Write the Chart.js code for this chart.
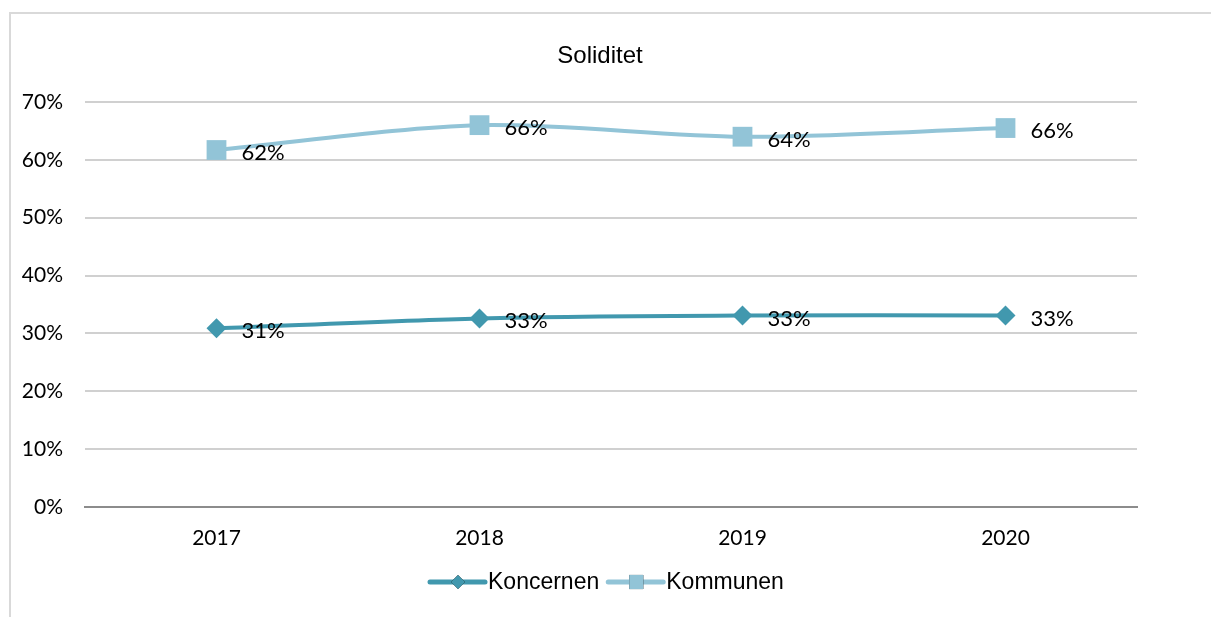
<!DOCTYPE html>
<html>
<head>
<meta charset="utf-8">
<script src="https://cdn.jsdelivr.net/npm/chart.js@4/dist/chart.umd.min.js"></script>
<style>
  html, body { margin: 0; padding: 0; background: #ffffff; }
  #wrap { position: relative; width: 1211px; height: 617px; overflow: hidden; }
  #frame { position: absolute; left: 9px; top: 12px; width: 1300px; height: 700px;
           border-left: 2px solid #d9d9d9; border-top: 2px solid #d9d9d9; }
  #soliditet_chart { position: absolute; left: 0; top: 0; }
</style>
</head>
<body>
<div id="wrap">
  <div id="frame"></div>
  <canvas id="soliditet_chart" width="1211" height="617"></canvas>
</div>
<script>
const YEARS = ['2017', '2018', '2019', '2020'];
const KONCERNEN = [30.9, 32.6, 33.1, 33.1];
const KOMMUNEN = [61.7, 66.0, 64.0, 65.5];
const Y_TICKS = [0, 10, 20, 30, 40, 50, 60, 70];
const CHART_TITLE = 'Soliditet';

const KONCERNEN_COLOR = '#4198ae';
const KOMMUNEN_COLOR = '#92c4d7';
const TICK_FONT = 'Lato';

// value labels to the right of each point, title and the line+marker legend
var extras_plugin = {
    id: 'extras',
    afterDatasetsDraw: function(chart) {
        var ctx = chart.ctx;
        ctx.save();
        ctx.fillStyle = '#000000';
        ctx.font = '22px ' + TICK_FONT;
        ctx.textAlign = 'left';
        ctx.textBaseline = 'middle';
        chart.data.datasets.forEach(function(ds, i) {
            var meta = chart.getDatasetMeta(i);
            meta.data.forEach(function(pt, j) {
                ctx.fillText(Math.round(ds.data[j]) + '%', pt.x + 25, pt.y + 3);
            });
        });
        ctx.restore();
    },
    afterDraw: function(chart) {
        var ctx = chart.ctx;
        ctx.save();
        ctx.fillStyle = '#000000';
        ctx.font = '24px "Liberation Sans", Arial, sans-serif';
        ctx.textAlign = 'center';
        ctx.textBaseline = 'middle';
        ctx.fillText(CHART_TITLE, 600, 56);

        // legend
        var x = 430;
        var y = 582;
        ctx.font = '23px "Liberation Sans", Arial, sans-serif';
        ctx.textAlign = 'left';
        chart.data.datasets.forEach(function(ds) {
            ctx.strokeStyle = ds.borderColor;
            ctx.lineWidth = 5;
            ctx.lineCap = 'round';
            ctx.beginPath();
            ctx.moveTo(x, y);
            ctx.lineTo(x + 55, y);
            ctx.stroke();
            Chart.helpers.drawPoint(ctx, {
                pointStyle: ds.pointStyle,
                radius: ds.pointStyle === 'rect' ? 10 : 7,
                rotation: 0,
                borderWidth: 0
            }, x + 28, y);
            ctx.fillStyle = ds.borderColor;
            ctx.fill();
            ctx.fillStyle = '#000000';
            ctx.fillText(ds.label, x + 58, y + 1);
            x += 58 + ctx.measureText(ds.label).width + 9;
        });
        ctx.restore();
    }
};

function create_chart() {
    const context = document.getElementById('soliditet_chart');
    new Chart(context, {
        type: 'line',
        data: {
            labels: YEARS,
            datasets: [{
                label: 'Koncernen',
                data: KONCERNEN,
                borderColor: KONCERNEN_COLOR,
                backgroundColor: KONCERNEN_COLOR,
                borderWidth: 4,
                pointStyle: 'rectRot',
                pointRadius: 10,
                pointHoverRadius: 10,
                pointBorderWidth: 0,
                tension: 0.3
            }, {
                label: 'Kommunen',
                data: KOMMUNEN,
                borderColor: KOMMUNEN_COLOR,
                backgroundColor: KOMMUNEN_COLOR,
                borderWidth: 4,
                pointStyle: 'rect',
                pointRadius: 14,
                pointHoverRadius: 14,
                pointBorderWidth: 0,
                tension: 0.3
            }]
        },
        options: {
            responsive: false,
            animation: false,
            layout: {
                padding: { left: 0, right: 74, top: 102, bottom: 0 }
            },
            scales: {
                x: {
                    offset: true,
                    afterFit: function(scale) { scale.height = 110; },
                    grid: { display: false, drawTicks: false },
                    border: { display: true, color: '#8c8c8c', width: 2 },
                    ticks: {
                        padding: 19,
                        color: '#000000',
                        font: { family: TICK_FONT, size: 21 }
                    }
                },
                y: {
                    min: 0,
                    max: 70,
                    afterFit: function(scale) { scale.width = 85; },
                    afterBuildTicks: function(scale) {
                        scale.ticks = Y_TICKS.map(function(v) { return { value: v }; });
                    },
                    grid: {
                        drawTicks: false,
                        color: '#d0d0d0',
                        lineWidth: 2
                    },
                    border: { display: false },
                    ticks: {
                        padding: 22,
                        color: '#000000',
                        font: { family: TICK_FONT, size: 21 },
                        callback: function(v) { return v + '%'; }
                    }
                }
            },
            plugins: {
                legend: { display: false },
                title: { display: false },
                tooltip: { enabled: false }
            }
        },
        plugins: [extras_plugin]
    });
}

window.onload = function() {
    create_chart();
};
</script>
</body>
</html>
